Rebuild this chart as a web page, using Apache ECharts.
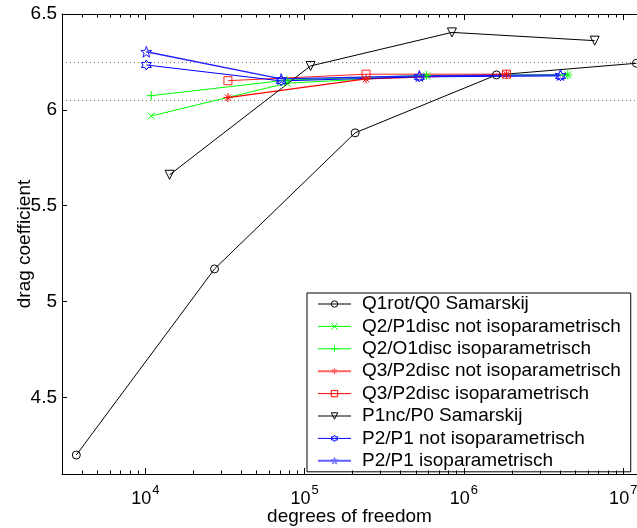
<!DOCTYPE html>
<html>
<head>
<meta charset="utf-8">
<script src="https://cdn.jsdelivr.net/npm/echarts@6/dist/echarts.min.js"></script>
<style>
  html, body { margin: 0; padding: 0; background: #fff; }
  #chart { width: 637px; height: 528px; }
</style>
</head>
<body>
<div id="chart"></div>
<script>
// Werte (x: Freiheitsgrade, y: Widerstandsbeiwert)
const q1rotX = [3690, 27200, 207600, 1.6e6, 1.21e7];
const q1rotY = [4.199, 5.170, 5.880, 6.182, 6.243];

const q2p1X = [10900, 77300, 583000, 4.49e6];
const q2p1Y = [5.968, 6.139, 6.177, 6.182];

const q2o1X = [10900, 77300, 583000, 4.49e6];
const q2o1Y = [6.074, 6.155, 6.180, 6.182];

const q3p2nX = [33000, 243000, 1.85e6];
const q3p2nY = [6.064, 6.161, 6.186];

const q3p2iX = [33000, 243000, 1.85e6];
const q3p2iY = [6.152, 6.186, 6.186];

const p1ncX = [14200, 109000, 841000, 6.62e6];
const p1ncY = [5.661, 6.229, 6.404, 6.361];

const p2p1nX = [10150, 71300, 525000, 4.04e6];
const p2p1nY = [6.234, 6.151, 6.172, 6.177];

const p2p1iX = [10150, 71300, 525000, 4.04e6];
const p2p1iY = [6.303, 6.161, 6.177, 6.182];

const refLines = [6.25, 6.05];
const xMajor = [1e4, 1e5, 1e6, 1e7];
const yTicks = [4.5, 5, 5.5, 6, 6.5];
const xMin = 3000, xMax = 1.22e7;

// Nebenstriche 2..9 * 10^k
const xMinor = [];
for (let k = 3; k <= 6; k++) {
  for (let m = 2; m <= 9; m++) {
    const v = m * Math.pow(10, k);
    if (v > xMin && v < xMax) xMinor.push(v);
  }
}

function zip(xs, ys) {
  return xs.map((x, i) => [x, ys[i]]);
}

function starPath(n, rOut, rIn) {
  let d = '';
  for (let i = 0; i < 2 * n; i++) {
    const r = i % 2 === 0 ? rOut : rIn;
    const a = -Math.PI / 2 + i * Math.PI / n;
    d += (i === 0 ? 'M' : 'L') + (10 + r * Math.cos(a)).toFixed(2) + ',' + (10 + r * Math.sin(a)).toFixed(2);
  }
  return 'path://' + d + 'Z';
}

const SYM = {
  x: 'path://M0,0L10,10M10,0L0,10',
  plus: 'path://M5,0L5,10M0,5L10,5',
  star: 'path://M5,0L5,10M0,5L10,5M1.5,1.5L8.5,8.5M8.5,1.5L1.5,8.5',
  penta: starPath(5, 10, 4),
  hexa: starPath(6, 10, 5.6)
};

const NOFILL = 'rgba(0,0,0,0)';

function mkSeries(name, data, color, symbol, size, opts) {
  opts = opts || {};
  return {
    name: name,
    type: 'line',
    data: data,
    symbol: symbol,
    symbolSize: size,
    symbolRotate: opts.rotate || 0,
    showAllSymbol: true,
    lineStyle: { color: color, width: opts.width || 1 },
    itemStyle: { color: NOFILL, borderColor: color, borderWidth: 1 },
    emphasis: { disabled: true },
    animation: false,
    z: 3
  };
}

const font = 'Liberation Sans, Arial, Helvetica, sans-serif';
const chart = echarts.init(document.getElementById('chart'));

const series = [
  mkSeries('Q1rot/Q0 Samarskij', zip(q1rotX, q1rotY), '#000000', 'circle', 8),
  mkSeries('Q2/P1disc not isoparametrisch', zip(q2p1X, q2p1Y), '#00ff00', SYM.x, 7),
  mkSeries('Q2/O1disc isoparametrisch', zip(q2o1X, q2o1Y), '#00ff00', SYM.plus, 9),
  mkSeries('Q3/P2disc not isoparametrisch', zip(q3p2nX, q3p2nY), '#ff0000', SYM.star, 9, { width: 1.3 }),
  mkSeries('Q3/P2disc isoparametrisch', zip(q3p2iX, q3p2iY), '#ff2020', 'rect', 8),
  mkSeries('P1nc/P0 Samarskij', zip(p1ncX, p1ncY), '#000000', 'triangle', 9, { rotate: 180 }),
  mkSeries('P2/P1 not isoparametrisch', zip(p2p1nX, p2p1nY), '#0000ff', SYM.hexa, 10),
  mkSeries('P2/P1 isoparametrisch', zip(p2p1iX, p2p1iY), '#2020ff', SYM.penta, 11, { width: 1.3 })
];

series[0].markLine = {
  silent: true,
  symbol: 'none',
  label: { show: false },
  lineStyle: { color: '#707070', type: [1, 3], width: 1 },
  data: refLines.map(v => ({ yAxis: v })),
  animation: false,
  z: 1
};

// Legendeneintraege mit duennen Linien und leeren Markern
const legendColors = ['#000000', '#00ff00', '#00ff00', '#ff6060', '#ff0000', '#000000', '#0000ff', '#6060ff'];
const legendWidths = [1, 1, 1, 2, 1, 1, 1, 2];
const legendData = series.map((s, i) => ({
  name: s.name,
  itemStyle: { color: NOFILL, borderColor: legendColors[i], borderWidth: 1 },
  lineStyle: { color: legendColors[i], width: legendWidths[i] }
}));

function xAxisCfg(pos, values, len, withLine, withLabels) {
  return {
    type: 'log',
    logBase: 10,
    position: pos,
    min: xMin,
    max: xMax,
    z: 5,
    axisLine: { show: withLine, onZero: false, lineStyle: { color: '#000', width: 1 } },
    axisTick: { show: true, inside: true, length: len, customValues: values, lineStyle: { color: '#000' } },
    splitLine: { show: false },
    minorTick: { show: false },
    axisLabel: withLabels ? {
      customValues: values,
      margin: 10,
      formatter: v => '{b|10}{s|' + Math.round(Math.log10(v)) + '}',
      rich: {
        b: { fontSize: 18, fontFamily: font, color: '#000', lineHeight: 24, verticalAlign: 'bottom' },
        s: { fontSize: 13, fontFamily: font, color: '#000', lineHeight: 24, verticalAlign: 'top', padding: [0, 0, 0, 1] }
      }
    } : { show: false },
    name: withLabels ? 'degrees of freedom' : '',
    nameLocation: 'middle',
    nameMoveOverlap: false,
    nameGap: 33,
    nameTextStyle: { fontSize: 19, fontFamily: font, color: '#000' }
  };
}

chart.setOption({
  backgroundColor: '#fff',
  animation: false,
  grid: { left: 62, top: 14, right: 0, bottom: 54, outerBoundsMode: 'none', containLabel: false },
  xAxis: [
    xAxisCfg('bottom', xMajor, 6, true, true),
    xAxisCfg('bottom', xMinor, 3.5, false, false),
    xAxisCfg('top', xMajor, 6, true, false),
    xAxisCfg('top', xMinor, 3.5, false, false)
  ],
  yAxis: {
    type: 'value',
    min: 4.1,
    max: 6.5,
    z: 5,
    axisLine: { show: true, onZero: false, lineStyle: { color: '#000', width: 1 } },
    axisTick: { show: true, inside: true, length: 5, customValues: yTicks, lineStyle: { color: '#000' } },
    splitLine: { show: false },
    axisLabel: {
      customValues: yTicks,
      margin: 5,
      fontSize: 19,
      fontFamily: font,
      color: '#000',
      formatter: v => String(v)
    },
    name: 'drag coefficient',
    nameLocation: 'middle',
    nameMoveOverlap: false,
    nameGap: 28,
    nameTextStyle: { fontSize: 19, fontFamily: font, color: '#000' }
  },
  legend: {
    orient: 'vertical',
    left: 307,
    top: 293,
    z: 2,
    padding: [0, 10, 0, 10],
    itemGap: 0.4,
    itemWidth: 33,
    itemHeight: 8,
    backgroundColor: '#fff',
    borderColor: '#000',
    borderWidth: 1,
    borderRadius: 0,
    selectedMode: false,
    textStyle: { fontSize: 19, fontFamily: font, color: '#000', lineHeight: 22, padding: [0, 0, 0, 6] },
    data: legendData
  },
  series: series
});
</script>
</body>
</html>
